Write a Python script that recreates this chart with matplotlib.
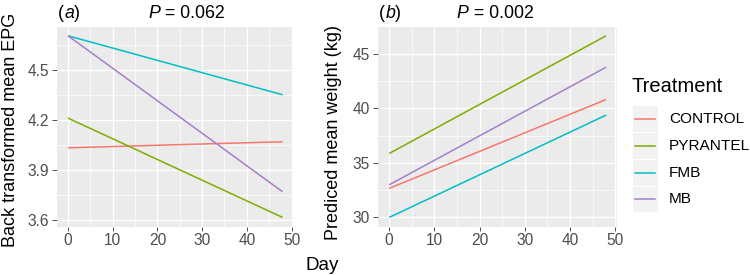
import matplotlib
matplotlib.use("Agg")
import matplotlib.pyplot as plt
from matplotlib.ticker import FixedLocator
from matplotlib.lines import Line2D
from matplotlib.patches import Rectangle

plt.rcParams['font.family'] = ['Liberation Sans', 'DejaVu Sans']

treatments = ["CONTROL", "PYRANTEL", "FMB", "MB"]
colors = ["#F8766D", "#7CAE00", "#00BFC4", "#A47FCB"]
days = [0, 48]

# Panel (a): back transformed mean EPG
epg = {
    "CONTROL": [4.034, 4.070],
    "PYRANTEL": [4.212, 3.616],
    "FMB": [4.706, 4.352],
    "MB": [4.706, 3.770],
}
# Panel (b): predicted mean weight (kg)
weight = {
    "CONTROL": [32.66, 40.81],
    "PYRANTEL": [35.86, 46.65],
    "FMB": [30.00, 39.38],
    "MB": [32.99, 43.77],
}

epg_ticks = [3.6, 3.9, 4.2, 4.5]
epg_ticklabels = ["3.6", "3.9", "4.2", "4.5"]
wt_ticks = [30, 35, 40, 45]
x_ticks = [0, 10, 20, 30, 40, 50]

W, H = 750, 275
fig = plt.figure(figsize=(W / 100, H / 100), dpi=100)


def px_axes(l, t, r, b):
    return fig.add_axes([l / W, 1 - b / H, (r - l) / W, (b - t) / H])


def style(ax, yticks, yminor, ylim, yticklabels=None):
    ax.set_facecolor("#EBEBEB")
    for s in ax.spines.values():
        s.set_visible(False)
    ax.set_xlim(-2.4, 50.4)
    ax.set_ylim(*ylim)
    ax.xaxis.set_major_locator(FixedLocator(x_ticks))
    ax.xaxis.set_minor_locator(FixedLocator([5, 15, 25, 35, 45]))
    ax.yaxis.set_major_locator(FixedLocator(yticks))
    ax.yaxis.set_minor_locator(FixedLocator(yminor))
    if yticklabels is not None:
        ax.set_yticklabels(yticklabels)
    ax.grid(which="major", color="white", lw=1.0)
    ax.grid(which="minor", color="white", lw=0.5)
    ax.set_axisbelow(True)
    ax.tick_params(which="major", width=0.6, color="#333333",
                   labelcolor="#4D4D4D", labelsize=11.2)
    ax.tick_params(axis="x", which="major", length=3, pad=2)
    ax.tick_params(axis="y", which="major", length=3.6, pad=2.4)
    ax.tick_params(which="minor", length=0)


ax1 = px_axes(57.3, 26.7, 293.3, 226.5)
for t, c in zip(treatments, colors):
    ax1.plot(days, epg[t], color=c, lw=1.1, solid_capstyle="butt")
style(ax1, epg_ticks, [3.75, 4.05, 4.35, 4.65], (3.5615, 4.7605), epg_ticklabels)

ax2 = px_axes(378.3, 26.7, 617.0, 226.5)
for t, c in zip(treatments, colors):
    ax2.plot(days, weight[t], color=c, lw=1.1, solid_capstyle="butt")
style(ax2, wt_ticks, [32.5, 37.5, 42.5, 47.5], (29.17, 47.48))


def ftext(x, y, s, **kw):
    return fig.text(x / W, 1 - y / H, s, **kw)


ftext(10.5, 130, "Back transformed mean EPG", fontsize=13, rotation=90,
      va="center", ha="center")
ftext(334, 132, "Prediced mean weight (kg)", fontsize=13, rotation=90,
      va="center", ha="center")


# Titles built from plain and italic pieces
def title_pieces(x, y, pieces, size=12.8):
    renderer = fig.canvas.get_renderer()
    cx = x
    for s, italic in pieces:
        t = ftext(cx, y, s, fontsize=size, va="center", ha="left",
                  style="italic" if italic else "normal")
        bb = t.get_window_extent(renderer=renderer)
        cx += bb.width


title_pieces(58.3, 13, [("(", False), ("a", True), (")", False)])
title_pieces(148, 13, [("P", True), (" = 0.062", False)])
title_pieces(379.3, 13, [("(", False), ("b", True), (")", False)])
title_pieces(456.7, 13, [("P", True), (" = 0.002", False)])

ftext(322.5, 265, "Day", fontsize=13.5, va="center", ha="center")

# Legend
ftext(631.5, 87, "Treatment", fontsize=14.5, va="center", ha="left")
rows_y = [119.3, 146.0, 172.7, 199.3]
for t, c, y in zip(treatments, colors, rows_y):
    fig.patches.append(Rectangle((632.5 / W, 1 - (y + 12.8) / H), 25 / W, 25.6 / H,
                                 transform=fig.transFigure, facecolor="#F2F2F2",
                                 edgecolor="none"))
    fig.lines.append(Line2D([635 / W, 655 / W], [1 - y / H, 1 - y / H],
                            transform=fig.transFigure, color=c, lw=1.1))
    ftext(669, y, t, fontsize=11.1, va="center", ha="left")

fig.savefig("out.png", dpi=100)
